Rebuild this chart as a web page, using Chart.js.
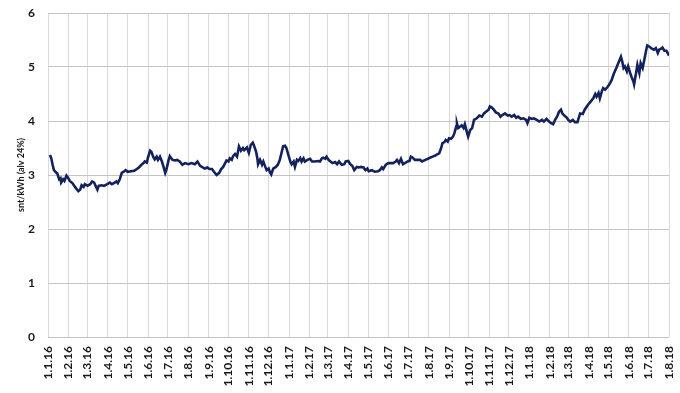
<!DOCTYPE html>
<html><head><meta charset="utf-8">
<script src="https://cdn.jsdelivr.net/npm/chart.js@4/dist/chart.umd.min.js"></script>
<style>html,body{margin:0;padding:0;background:#fff}#wrap{width:680px;height:393px;position:relative}</style>
</head><body><div id="wrap"><canvas id="c"></canvas></div>
<script>
// Month tick labels (d.m.yy)
const tickLabels = ['1.1.16','1.2.16','1.3.16','1.4.16','1.5.16','1.6.16','1.7.16','1.8.16','1.9.16','1.10.16','1.11.16','1.12.16',
  '1.1.17','1.2.17','1.3.17','1.4.17','1.5.17','1.6.17','1.7.17','1.8.17','1.9.17','1.10.17','1.11.17','1.12.17',
  '1.1.18','1.2.18','1.3.18','1.4.18','1.5.18','1.6.18','1.7.18','1.8.18'];
// Days since 1.1.2016
const days = [3,5,7,9,12,14,17,19,20,23,25,28,30,33,37,41,44,46,49,51,54,56,60,64,67,70,73,75,77,81,85,90,94,97,100,104,106,109,112,115,118,121,126,131,135,138,142,145,147,150,152,155,157,160,162,165,167,170,173,175,178,180,183,185,189,193,196,200,204,208,213,218,223,227,231,235,238,242,245,249,252,256,260,263,266,269,271,274,276,279,281,284,287,290,293,296,298,302,305,308,311,313,316,318,319,322,325,327,330,332,335,337,339,342,346,349,352,355,357,360,362,365,368,370,373,375,378,380,383,385,388,390,394,398,401,405,410,413,416,418,421,423,426,428,432,436,439,442,446,450,452,456,459,462,465,469,472,475,479,482,485,487,492,496,501,504,507,509,513,517,521,524,528,530,533,536,539,542,546,549,551,554,557,561,565,568,573,577,580,584,588,591,594,597,599,602,604,607,609,612,615,617,620,621,623,626,628,631,633,636,638,641,644,647,651,655,659,662,665,669,671,674,677,680,684,687,690,694,698,701,704,708,711,714,718,722,726,728,731,735,738,742,746,750,753,757,761,764,767,770,773,776,779,781,784,788,790,793,797,800,804,808,812,815,820,824,828,831,833,836,838,841,843,846,849,852,856,859,863,865,868,870,872,874,876,879,881,884,886,889,890,893,895,898,900,903,905,908,910,913,917,920,923,926,928,931,933,936,939,941,943];
// snt/kWh (alv 24%)
const values = [3.37,3.31,3.19,3.09,3.05,3.03,2.92,2.94,2.86,2.92,2.89,2.99,2.96,2.89,2.85,2.78,2.73,2.70,2.73,2.81,2.78,2.83,2.80,2.83,2.88,2.86,2.78,2.73,2.80,2.81,2.80,2.83,2.86,2.83,2.85,2.88,2.85,2.92,3.04,3.06,3.09,3.06,3.07,3.08,3.11,3.14,3.19,3.22,3.25,3.23,3.33,3.45,3.43,3.33,3.29,3.34,3.28,3.34,3.25,3.17,3.04,3.11,3.27,3.35,3.28,3.27,3.28,3.25,3.19,3.22,3.20,3.22,3.20,3.25,3.17,3.14,3.12,3.14,3.11,3.11,3.06,3.00,3.04,3.11,3.15,3.22,3.27,3.25,3.31,3.28,3.35,3.39,3.34,3.53,3.45,3.50,3.46,3.51,3.41,3.56,3.60,3.54,3.43,3.30,3.20,3.28,3.19,3.25,3.15,3.09,3.12,3.05,3.01,3.12,3.15,3.19,3.28,3.43,3.53,3.54,3.50,3.37,3.25,3.20,3.25,3.15,3.28,3.26,3.31,3.25,3.31,3.25,3.28,3.30,3.25,3.25,3.26,3.25,3.31,3.32,3.30,3.34,3.28,3.26,3.22,3.24,3.20,3.25,3.19,3.20,3.25,3.26,3.20,3.17,3.09,3.15,3.14,3.15,3.14,3.09,3.12,3.07,3.09,3.06,3.07,3.09,3.14,3.11,3.19,3.22,3.22,3.22,3.25,3.28,3.22,3.30,3.20,3.22,3.25,3.26,3.34,3.32,3.28,3.28,3.28,3.25,3.28,3.30,3.32,3.34,3.36,3.38,3.40,3.50,3.59,3.61,3.65,3.62,3.68,3.67,3.71,3.77,3.90,3.96,3.87,3.90,3.92,3.87,3.94,3.80,3.71,3.83,3.87,4.02,4.05,4.10,4.08,4.14,4.17,4.21,4.27,4.25,4.21,4.16,4.14,4.08,4.11,4.14,4.10,4.11,4.08,4.11,4.06,4.08,4.04,4.05,4.02,3.96,4.06,4.04,4.05,4.02,3.99,4.02,3.99,4.04,3.99,3.96,3.94,4.02,4.08,4.17,4.21,4.14,4.10,4.06,4.02,3.99,4.02,3.98,3.98,4.14,4.13,4.21,4.30,4.36,4.42,4.50,4.45,4.52,4.42,4.55,4.61,4.58,4.62,4.67,4.76,4.87,4.98,5.04,5.13,5.19,5.10,4.98,5.01,4.92,5.01,4.89,4.82,4.73,4.68,4.89,5.04,4.89,5.07,4.98,5.10,5.29,5.40,5.38,5.34,5.32,5.35,5.26,5.32,5.34,5.36,5.30,5.30,5.26,5.21];
const yTicks = [0,1,2,3,4,5,6];
const yTitle = 'snt/kWh (alv 24%)';

const base = Date.UTC(2016,0,1);
function dayOf(lbl){const p=lbl.split('.').map(Number);return Math.round((Date.UTC(2000+p[2],p[1]-1,p[0])-base)/86400000);}
const tickDays = tickLabels.map(dayOf);
const labelAt = {}; tickDays.forEach((d,i)=>labelAt[d]=tickLabels[i]);

const font = 'Lato, "Open Sans", sans-serif';
new Chart(document.getElementById('c'), {
  type: 'line',
  data: { datasets: [{
    data: days.map((d,i)=>({x:d,y:values[i]})),
    borderColor: '#13225c', borderWidth: 2.6, pointRadius: 0, tension: 0, fill: false
  }]},
  options: {
    responsive: true, maintainAspectRatio: false, animation: false, devicePixelRatio: 1,
    layout: { padding: { left: 6, right: 11, top: 13, bottom: 0 } },
    plugins: { legend: { display: false }, tooltip: { enabled: false } },
    scales: {
      x: {
        type: 'linear', min: tickDays[0], max: tickDays[tickDays.length-1],
        afterBuildTicks: (axis) => { axis.ticks = tickDays.map(v=>({value:v})); },
        afterFit: (axis) => { axis.height = 56; axis.paddingLeft = 0; axis.paddingRight = 0; },
        ticks: { autoSkip: false, minRotation: 90, maxRotation: 90, padding: 9,
          callback: (v) => labelAt[v] || '',
          font: { family: font, weight: 'bold', size: 12 }, color: '#1a1a1a' },
        grid: { color: '#dadada', lineWidth: 1, drawTicks: false },
        border: { display: false }
      },
      y: {
        min: yTicks[0], max: yTicks[yTicks.length-1],
        afterBuildTicks: (axis) => { axis.ticks = yTicks.map(v=>({value:v})); },
        afterFit: (axis) => { axis.width = 42; axis.paddingTop = 0; axis.paddingBottom = 0; },
        ticks: { padding: 13, font: { family: font, weight: 'bold', size: 12 }, color: '#1a1a1a' },
        grid: { color: '#c4c4c4', lineWidth: 1, drawTicks: false },
        border: { display: false },
        title: { display: true, text: yTitle, padding: { top: 10, bottom: 0 },
          font: { family: font, weight: 'bold', size: 9 }, color: '#1a1a1a' }
      }
    }
  }
});
</script>
</body></html>
